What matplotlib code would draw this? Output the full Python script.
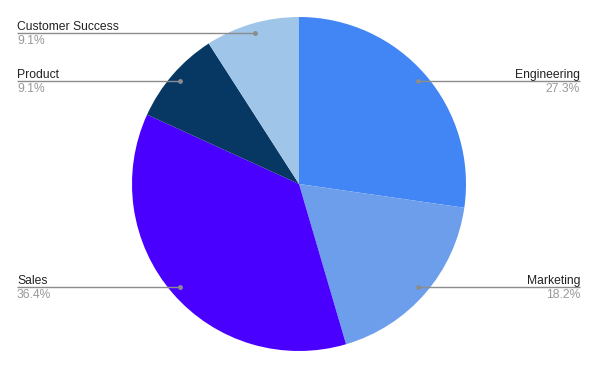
import numpy as np
import matplotlib
matplotlib.use("Agg")
import matplotlib.pyplot as plt

# data
teams = ['Engineering', 'Marketing', 'Sales', 'Product', 'Customer Success']
heads = [3, 2, 4, 1, 1]
colors = ['#4285f4', '#6d9eeb', '#4a00ff', '#073763', '#9fc5e8']

plt.rcParams['font.family'] = ['Liberation Sans', 'DejaVu Sans']

W, H = 598, 369
fig = plt.figure(figsize=(W / 100, H / 100), dpi=100)
ax = fig.add_axes([0, 0, 1, 1])

cx, cy, R = 299, H - 184, 167
wedges, _ = ax.pie(heads, colors=colors, startangle=90, counterclock=False,
                   center=(cx, cy), radius=R, frame=True,
                   wedgeprops=dict(linewidth=0))
ax.set_xlim(0, W)
ax.set_ylim(0, H)
ax.set_aspect('equal')
ax.axis('off')

total = sum(heads)
for w, name, v in zip(wedges, teams, heads):
    ang = np.deg2rad((w.theta1 + w.theta2) / 2)
    dx = np.cos(ang) * R * 0.945
    dy = np.sin(ang) * R * 0.945
    px, py = cx + dx, cy + dy
    pct = '%.1f%%' % (100.0 * v / total)
    if dx >= 0:
        x_end = 580
        ha = 'right'
    else:
        x_end = 17
        ha = 'left'
    ax.plot([px, x_end], [py, py], color='#8c8c8c', lw=1, solid_capstyle='butt')
    ax.plot(px, py, 'o', color='#8c8c8c', ms=3.5, mec='none')
    ax.text(x_end, py + 3, name, ha=ha, va='baseline', fontsize=8.7, color='#222222')
    ax.text(x_end, py - 11, pct, ha=ha, va='baseline', fontsize=8.7, color='#999999')

fig.savefig('out.png', dpi=100)
